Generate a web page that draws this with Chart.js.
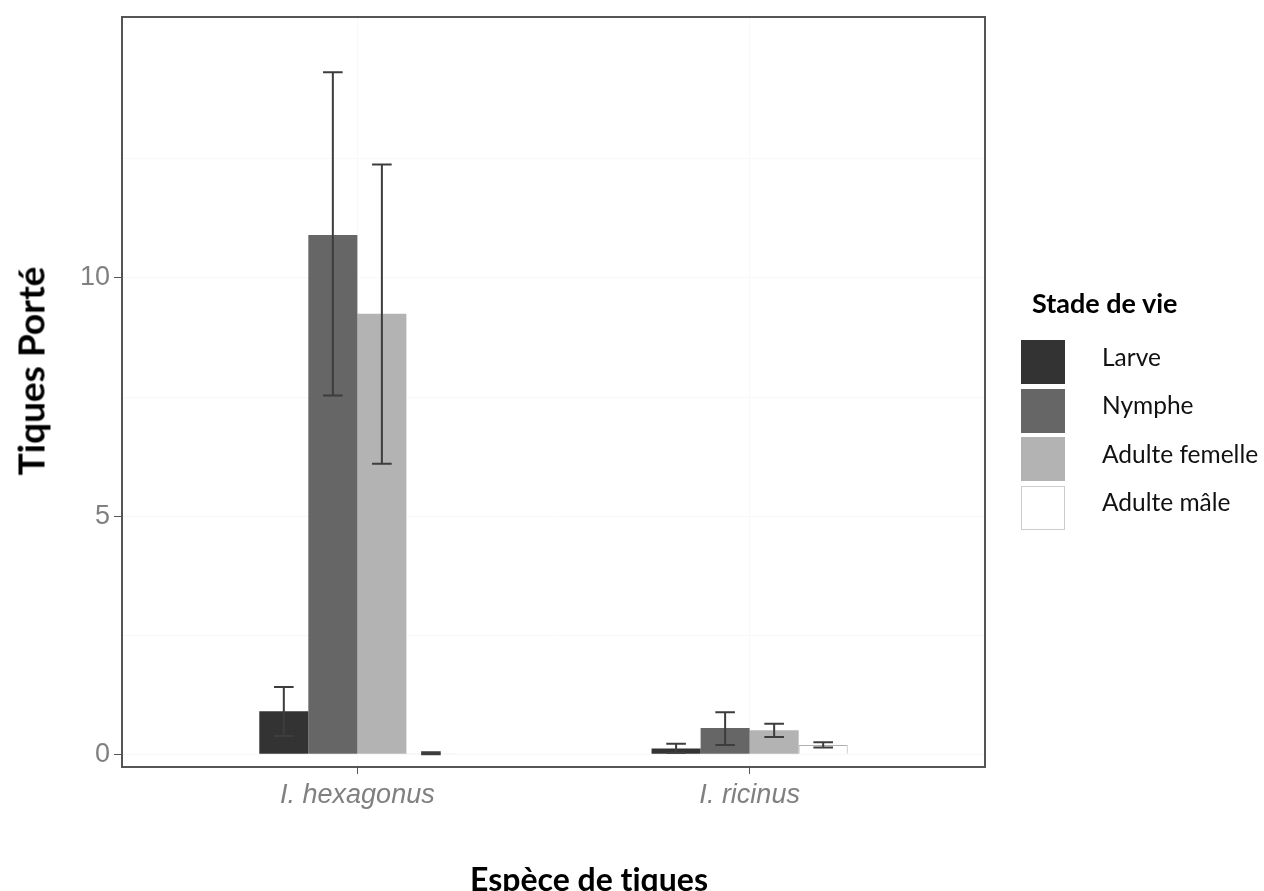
<!DOCTYPE html>
<html lang="fr">
<head>
<meta charset="utf-8">
<title>Tiques Porté</title>
<script src="https://cdn.jsdelivr.net/npm/chart.js@4.4.1/dist/chart.umd.min.js"></script>
<style>
  html, body { margin: 0; padding: 0; background: #fff; }
  #wrap { position: relative; width: 1264px; height: 891px; }
  #chart { position: absolute; left: 0; top: 0; }
  .title { position: absolute; font-family: Lato, "Open Sans", sans-serif; font-weight: bold; color: #000; white-space: nowrap; line-height: 1; font-variant-ligatures: none; }
  #xtitle { left: 589px; top: 879px; font-size: 32px; transform: translate(-50%, -50%); }
  #ytitle { left: 30px; top: 371px; font-size: 37px; transform: translate(-50%, -50%) rotate(-90deg); }
  #legend { position: absolute; left: 1021px; top: 288px; font-family: Lato, "Open Sans", sans-serif; }
  #legend .ltitle { font-weight: bold; font-size: 27px; margin-left: 11px; height: 50px; line-height: 30px; }
  #legend .item { display: flex; align-items: center; height: 48.5px; }
  #legend .box { width: 44px; height: 44px; box-sizing: border-box; }
  #legend .lab { font-size: 24.5px; margin-left: 37px; margin-top: -12px; color: #111; }
</style>
</head>
<body>
<div id="wrap">
  <canvas id="chart" width="1264" height="891"></canvas>
  <div class="title" id="ytitle">Tiques Porté</div>
  <div class="title" id="xtitle">Espèce de tiques</div>
  <div id="legend"></div>
</div>
<script>
// species on the x axis
const species = ['I. hexagonus', 'I. ricinus'];
const stages = ['Larve', 'Nymphe', 'Adulte femelle', 'Adulte mâle'];

// mean ticks carried, per species
const larve = [0.9, 0.12];
const nymphe = [10.9, 0.55];
const femelle = [9.25, 0.5];
const male = [0.02, 0.19];

// error bar limits
const larveLow = [0.38, 0.03];
const larveHigh = [1.41, 0.22];
const nympheLow = [7.53, 0.19];
const nympheHigh = [14.32, 0.88];
const femelleLow = [6.1, 0.36];
const femelleHigh = [12.38, 0.64];
const maleLow = [0.0, 0.14];
const maleHigh = [0.04, 0.25];

const yTicks = [0, 2.5, 5, 7.5, 10, 12.5];

const fills = ['#333333', '#666666', '#b3b3b3', '#ffffff'];
const edges = ['#333333', '#666666', '#b3b3b3', '#b0b0b0'];

const series = [larve, nymphe, femelle, male];
const lows = [larveLow, nympheLow, femelleLow, maleLow];
const highs = [larveHigh, nympheHigh, femelleHigh, maleHigh];

const datasets = stages.map((name, i) => ({
    label: name,
    data: series[i].map((v, k) => ({ x: k + 1, y: v })),
    errLow: lows[i],
    errHigh: highs[i],
    backgroundColor: fills[i],
    borderColor: edges[i],
    borderWidth: i === 3 ? 1 : 0,
    categoryPercentage: 0.5,
    barPercentage: 1
}));

// error bars drawn from the y scale
const errorBars = {
    id: 'errorBars',
    afterDatasetsDraw(chart) {
        const { ctx } = chart;
        const y = chart.scales.y;
        ctx.save();
        ctx.strokeStyle = '#3d3d3d';
        ctx.lineWidth = 2;
        chart.data.datasets.forEach((ds, i) => {
            chart.getDatasetMeta(i).data.forEach((bar, j) => {
                const lo = y.getPixelForValue(ds.errLow[j]);
                const hi = y.getPixelForValue(ds.errHigh[j]);
                const half = bar.width * 0.2;
                ctx.beginPath();
                ctx.moveTo(bar.x, lo); ctx.lineTo(bar.x, hi);
                ctx.moveTo(bar.x - half, lo); ctx.lineTo(bar.x + half, lo);
                ctx.moveTo(bar.x - half, hi); ctx.lineTo(bar.x + half, hi);
                ctx.stroke();
            });
        });
        ctx.restore();
    }
};

// panel border all round
const frame = {
    id: 'frame',
    afterDraw(chart) {
        const { ctx, chartArea: a } = chart;
        ctx.save();
        ctx.strokeStyle = '#555555';
        ctx.lineWidth = 2;
        ctx.strokeRect(a.left, a.top, a.right - a.left, a.bottom - a.top);
        ctx.restore();
    }
};

new Chart(document.getElementById('chart'), {
    type: 'bar',
    data: { datasets },
    plugins: [errorBars, frame],
    options: {
        responsive: false,
        animation: false,
        layout: { padding: { top: 17, right: 279, left: 0, bottom: 0 } },
        scales: {
            x: {
                type: 'linear',
                min: 0.4,
                max: 2.6,
                offset: false,
                afterBuildTicks: s => { s.ticks = [1, 2].map(v => ({ value: v })); },
                afterFit: s => { s.height = 124; },
                grid: { offset: false, color: '#f8f8f8', tickColor: '#555', tickLength: 7 },
                border: { display: false },
                ticks: {
                    color: '#808080',
                    padding: 5,
                    maxRotation: 0,
                    font: { family: '"Liberation Sans", Arial, sans-serif', size: 27, style: 'italic' },
                    callback: v => species[v - 1]
                }
            },
            y: {
                min: -0.27,
                max: 15.48,
                afterBuildTicks: s => { s.ticks = yTicks.map(v => ({ value: v })); },
                afterFit: s => { s.width = 122; s.paddingTop = 0; s.paddingBottom = 0; },
                grid: {
                    color: '#f8f8f8',
                    tickLength: 8,
                    tickColor: c => (c.tick && c.tick.value % 5 === 0 ? '#555' : 'rgba(0,0,0,0)')
                },
                border: { display: false },
                ticks: {
                    color: '#808080',
                    padding: 4,
                    font: { family: '"Liberation Sans", Arial, sans-serif', size: 27 },
                    callback: v => (v % 5 === 0 ? String(v) : '')
                }
            }
        },
        plugins: {
            legend: { display: false },
            tooltip: { enabled: false }
        }
    }
});

// legend keys
const legend = document.getElementById('legend');
legend.innerHTML = '<div class="ltitle">Stade de vie</div>' + stages.map((name, i) =>
    `<div class="item"><div class="box" style="background:${fills[i]};border:1px solid ${i === 3 ? '#cccccc' : fills[i]}"></div><span class="lab">${name}</span></div>`
).join('');
</script>
</body>
</html>
